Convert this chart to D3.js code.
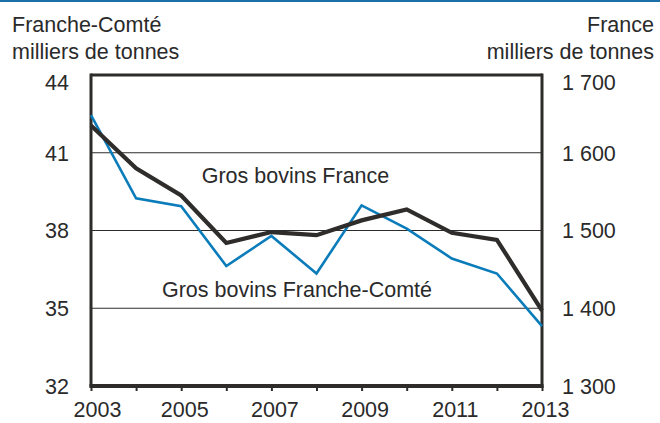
<!DOCTYPE html>
<html>
<head>
<meta charset="utf-8">
<script src="https://cdn.jsdelivr.net/npm/d3@7"></script>
<style>
  html, body { margin: 0; padding: 0; background: #fff; }
  svg { display: block; }
  text { font-family: "Liberation Sans", Arial, sans-serif; fill: #2a2a2a; }
</style>
</head>
<body>
<svg id="chart" width="660" height="423"></svg>
<script>
// ---- data ----
const years = [2003, 2004, 2005, 2006, 2007, 2008, 2009, 2010, 2011, 2012, 2013];
const franceValues = [1635, 1580, 1545, 1484, 1498, 1494, 1513, 1527, 1497, 1488, 1397];
const franceComteValues = [42.45, 39.24, 38.94, 36.63, 37.79, 36.34, 38.97, 38.07, 36.92, 36.34, 34.31];
const xTickLabels = ["2003", "", "2005", "", "2007", "", "2009", "", "2011", "", "2013"];
const leftTicks = [32, 35, 38, 41, 44];
const rightTicks = [1300, 1400, 1500, 1600, 1700];
const leftTitle = ["Franche-Comté", "milliers de tonnes"];
const rightTitle = ["France", "milliers de tonnes"];
const seriesLabels = ["Gros bovins France", "Gros bovins Franche-Comté"];

// ---- layout ----
const svg = d3.select("#chart");
const L = 91, R = 542, T = 75, B = 386;
const x = d3.scaleLinear().domain([2003, 2013]).range([L, R]);
const yL = d3.scaleLinear().domain([32, 44]).range([B, T]);
const yR = d3.scaleLinear().domain([1300, 1700]).range([B, T]);
const frLocale = d3.formatLocale({decimal: ",", thousands: " ", grouping: [3], currency: ["", " €"]});
const fmtR = frLocale.format(",");
const FS = "21.5px";
const dark = "#2d2c2b";

// top blue rule
svg.append("rect").attr("x", 0).attr("y", 0).attr("width", 660).attr("height", 2).attr("fill", "#1b6fa9");

// gridlines
svg.append("g").selectAll("line").data(leftTicks.filter(d => d !== 32 && d !== 44)).join("line")
  .attr("x1", L).attr("x2", R).attr("y1", d => yL(d)).attr("y2", d => yL(d))
  .attr("stroke", dark).attr("stroke-width", 1.2);

// frame: top, left, right, bottom
svg.append("line").attr("x1", L).attr("x2", R).attr("y1", T).attr("y2", T).attr("stroke", dark).attr("stroke-width", 3);
svg.append("line").attr("x1", L).attr("x2", L).attr("y1", T - 1.5).attr("y2", B + 1.5).attr("stroke", dark).attr("stroke-width", 3);
svg.append("line").attr("x1", R).attr("x2", R).attr("y1", T - 1.5).attr("y2", B + 1.5).attr("stroke", dark).attr("stroke-width", 3);

// x axis
const xAxis = d3.axisBottom(x).tickValues(years).tickSize(5).tickPadding(11)
  .tickFormat((d, i) => xTickLabels[i]);
const gx = svg.append("g").attr("transform", `translate(0,${B})`).call(xAxis);
gx.select(".domain").attr("stroke", dark).attr("stroke-width", 4).attr("d", `M${L - 1.5},0H${R + 1.5}`);
gx.selectAll(".tick line").attr("stroke", dark).attr("stroke-width", 2);
gx.selectAll(".tick text").attr("font-size", FS).attr("fill", "#2a2a2a")
  .attr("font-family", "Liberation Sans, Arial, sans-serif")
  .attr("dx", (d, i) => i === 0 ? 6 : 3);

// left axis labels
const gl = svg.append("g").attr("transform", `translate(${L},0)`)
  .call(d3.axisLeft(yL).tickValues(leftTicks).tickSize(0).tickPadding(22));
gl.select(".domain").remove();
gl.selectAll(".tick text").attr("font-size", FS).attr("fill", "#2a2a2a")
  .attr("font-family", "Liberation Sans, Arial, sans-serif")
  .attr("dy", d => d === 44 ? "0.68em" : "0.34em");

// right axis labels
const gr = svg.append("g").attr("transform", `translate(${R},0)`)
  .call(d3.axisRight(yR).tickValues(rightTicks).tickSize(0).tickPadding(20).tickFormat(fmtR));
gr.select(".domain").remove();
gr.selectAll(".tick text").attr("font-size", FS).attr("fill", "#2a2a2a")
  .attr("font-family", "Liberation Sans, Arial, sans-serif")
  .attr("dy", d => d === 1700 ? "0.68em" : "0.34em");

// series lines
const lineFC = d3.line().x((d, i) => x(years[i])).y(d => yL(d));
const lineFR = d3.line().x((d, i) => x(years[i])).y(d => yR(d));
svg.append("path").datum(franceComteValues).attr("d", lineFC)
  .attr("fill", "none").attr("stroke", "#0b7cba").attr("stroke-width", 2.6).attr("stroke-linejoin", "miter");
svg.append("path").datum(franceValues).attr("d", lineFR)
  .attr("fill", "none").attr("stroke", "#2f2d2c").attr("stroke-width", 4.2).attr("stroke-linejoin", "miter");

// axis titles
const tl = svg.append("text").attr("x", 12).attr("font-size", FS);
tl.selectAll("tspan").data(leftTitle).join("tspan").attr("x", 12).attr("y", (d, i) => 31.5 + i * 27.5).text(d => d);
const tr = svg.append("text").attr("text-anchor", "end").attr("font-size", FS);
tr.selectAll("tspan").data(rightTitle).join("tspan").attr("x", 654).attr("y", (d, i) => 31.5 + i * 27.5).text(d => d);

// series labels
svg.append("text").attr("x", 295.5).attr("y", 183).attr("text-anchor", "middle").attr("font-size", FS).text(seriesLabels[0]);
svg.append("text").attr("x", 297).attr("y", 297).attr("text-anchor", "middle").attr("font-size", FS).text(seriesLabels[1]);
</script>
</body>
</html>
